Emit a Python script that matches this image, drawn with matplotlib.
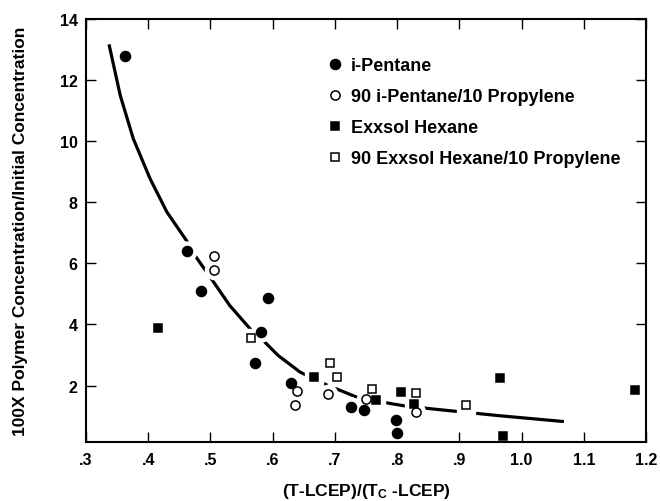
import matplotlib
matplotlib.use("Agg")
import matplotlib.pyplot as plt

# data
pentane_x = [0.363, 0.462, 0.485, 0.593, 0.582, 0.571, 0.630, 0.726, 0.747, 0.798, 0.800]
pentane_y = [12.80, 6.42, 5.11, 4.86, 3.75, 2.73, 2.07, 1.31, 1.20, 0.88, 0.45]

pentane_prop_x = [0.506, 0.506, 0.639, 0.636, 0.689, 0.750, 0.830]
pentane_prop_y = [6.23, 5.77, 1.83, 1.36, 1.71, 1.56, 1.12]

hexane_x = [0.416, 0.667, 0.766, 0.806, 0.827, 0.966, 0.970, 1.183]
hexane_y = [3.88, 2.27, 1.53, 1.80, 1.40, 2.26, 0.35, 1.86]

hexane_prop_x = [0.565, 0.692, 0.703, 0.760, 0.830, 0.910]
hexane_prop_y = [3.56, 2.73, 2.29, 1.89, 1.76, 1.37]

curve_x = [0.337, 0.355, 0.376, 0.403, 0.430, 0.463, 0.475, 0.505, 0.531, 0.564,
           0.585, 0.609, 0.644, 0.681, 0.735, 0.778, 0.810, 0.858, 0.965, 1.068]
curve_y = [13.17, 11.50, 10.08, 8.77, 7.68, 6.70, 6.26, 5.39, 4.62, 3.85,
           3.47, 2.98, 2.44, 2.07, 1.62, 1.45, 1.34, 1.23, 1.01, 0.82]

x_ticks = [0.3, 0.4, 0.5, 0.6, 0.7, 0.8, 0.9, 1.0, 1.1, 1.2]
x_tick_labels = [".3", ".4", ".5", ".6", ".7", ".8", ".9", "1.0", "1.1", "1.2"]
y_ticks = [2, 4, 6, 8, 10, 12, 14]


def run():
    plt.rcParams['font.family'] = ['Liberation Sans', 'DejaVu Sans']
    plt.rcParams['font.weight'] = 'bold'
    plt.rcParams['mathtext.fontset'] = 'custom'
    plt.rcParams['mathtext.rm'] = 'Liberation Sans:bold'
    plt.rcParams['mathtext.default'] = 'rm'

    fig = plt.figure(figsize=(6.6, 5.02), dpi=100)
    ax = fig.add_axes([0.1303, 0.1175, 0.8485, 0.8427])

    ax.plot(curve_x, curve_y, color='black', linewidth=2.3, solid_capstyle='butt',
            solid_joinstyle='round', zorder=2)

    # white halos break the curve around the markers like in the original
    series = [
        (pentane_x, pentane_y, 'o', 'black', 7.2, "i-Pentane"),
        (pentane_prop_x, pentane_prop_y, 'o', 'white', 6.6, "90 i-Pentane/10 Propylene"),
        (hexane_x, hexane_y, 's', 'black', 6.3, "Exxsol Hexane"),
        (hexane_prop_x, hexane_prop_y, 's', 'white', 6.3, "90 Exxsol Hexane/10 Propylene"),
    ]
    for xs, ys, m, fc, ms, lab in series:
        ax.plot(xs, ys, linestyle='none', marker=m, markersize=ms + 6.5,
                color='white', markeredgecolor='white', zorder=2.2)
    for xs, ys, m, fc, ms, lab in series:
        ax.plot(xs, ys, linestyle='none', marker=m, markersize=ms,
                markerfacecolor=fc, markeredgecolor='black', markeredgewidth=1.1,
                label=lab, zorder=3, clip_on=False)

    ax.set_xlim(0.3, 1.2)
    ax.set_ylim(0.15, 14)
    ax.set_xticks(x_ticks)
    ax.set_xticklabels(x_tick_labels)
    ax.set_yticks(y_ticks)
    ax.set_yticklabels([str(t) for t in y_ticks])

    ax.tick_params(direction='in', length=7, width=1, top=True, right=True, labelsize=11.5)
    ax.tick_params(axis='x', pad=7.5)
    ax.tick_params(axis='y', pad=6)
    for sp in ax.spines.values():
        sp.set_linewidth(1.5)

    ax.set_xlabel(r"(T-LCEP)/(T$_{C}$ -LCEP)", fontsize=12.5, fontweight='bold')
    ax.xaxis.set_label_coords(0.5, -0.092)
    ax.set_ylabel("100X Polymer Concentration/Initial Concentration", fontsize=12.5, fontweight='bold')
    ax.yaxis.set_label_coords(-0.104, 0.5)

    ax.legend(loc='upper left', bbox_to_anchor=(0.4357, 0.910), frameon=False,
              handlelength=0.6, handletextpad=0.55, labelspacing=0.78,
              borderaxespad=0, borderpad=0, fontsize=13, numpoints=1)

    fig.savefig("out.png", dpi=100)


if __name__ == "__main__":
    run()
